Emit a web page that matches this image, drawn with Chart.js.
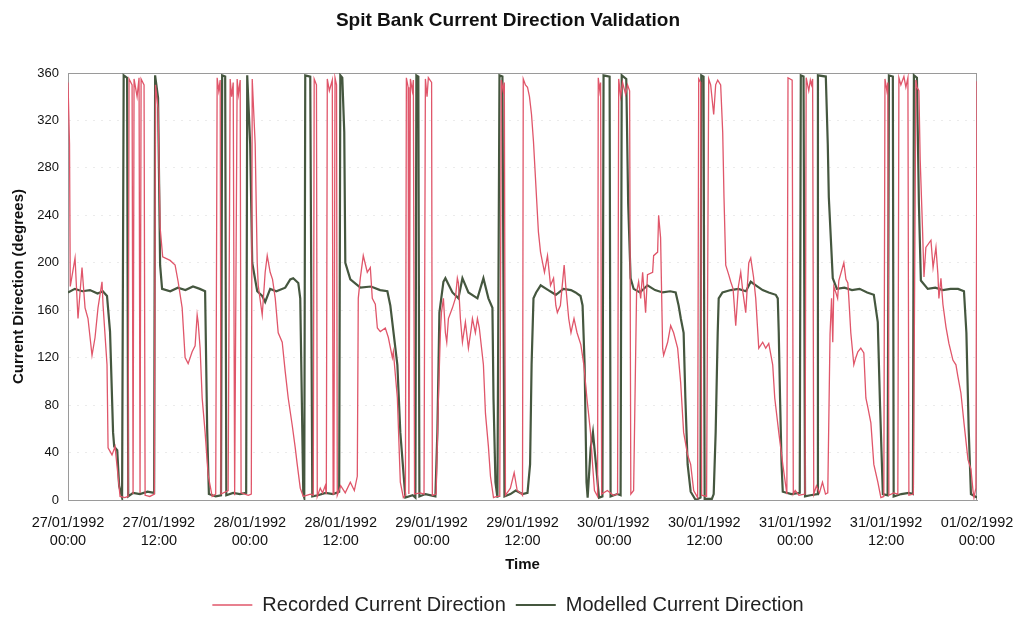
<!DOCTYPE html>
<html>
<head>
<meta charset="utf-8">
<title>Spit Bank Current Direction Validation</title>
<script src="https://cdn.jsdelivr.net/npm/chart.js@4.4.1/dist/chart.umd.min.js"></script>
<style>
  body { margin: 0; background: #fff; }
  #chart { display: block; }
</style>
</head>
<body>
<canvas id="chart" width="1016" height="621"></canvas>
<script>
// hours after 27/01/1992 00:00
let recTimes = [0.00,0.20,0.30,0.93,1.32,1.85,2.25,2.64,3.17,3.57,3.96,4.49,4.63,5.15,5.29,5.81,6.21,6.61,6.87,7.50,
  7.93,8.06,8.46,8.59,8.72,9.12,9.38,9.51,9.65,10.04,10.18,10.80,11.40,11.55,11.89,12.16,12.50,13.48,14.14,14.54,
  15.07,15.46,15.86,16.39,16.78,17.05,17.18,17.44,17.71,18.10,18.50,19.03,19.50,19.69,19.90,20.09,20.20,21.14,21.41,21.60,
  21.81,22.00,22.33,22.50,22.73,22.85,23.80,24.20,24.32,24.71,24.98,25.11,25.64,26.03,26.30,26.69,27.00,27.36,27.75,28.28,
  28.68,29.07,29.60,30.00,30.26,30.66,31.06,32.00,32.38,32.50,32.80,32.91,33.30,33.60,33.96,34.10,34.23,34.50,34.89,35.00,
  35.10,35.25,35.45,35.55,36.00,36.60,37.27,37.80,38.19,38.32,38.59,38.98,39.51,39.91,40.17,40.57,40.84,41.23,41.89,42.29,
  42.82,42.95,43.48,43.87,44.27,44.54,44.67,44.90,45.00,45.20,45.45,45.59,45.75,46.50,47.00,47.18,47.40,47.57,48.00,48.10,
  48.60,48.90,49.16,49.30,49.56,49.82,50.00,50.22,50.75,51.14,51.40,51.54,51.80,52.07,52.46,52.86,53.26,53.39,53.78,54.05,
  54.30,54.84,55.11,55.50,55.77,56.17,56.60,57.00,57.20,57.45,57.60,57.75,58.40,58.90,59.30,59.90,60.00,60.10,60.39,60.66,
  60.92,61.19,61.45,62.10,62.38,62.90,63.30,63.70,64.10,64.40,64.60,65.00,65.50,65.70,66.10,66.40,66.80,67.20,67.70,68.10,
  68.50,68.98,69.25,69.50,69.91,70.00,70.20,70.31,70.45,71.20,72.00,72.55,72.70,72.95,73.21,73.61,73.87,74.14,74.30,74.67,
  75.06,75.33,75.60,75.86,76.25,76.50,77.18,77.31,77.84,77.97,78.23,78.50,78.63,79.16,79.56,79.95,80.48,80.88,81.27,81.80,
  82.20,82.60,83.12,83.26,83.52,83.65,84.30,84.58,84.84,85.24,85.50,85.77,86.16,86.43,86.60,86.83,87.22,87.49,87.80,88.15,
  88.50,88.81,89.10,89.47,89.87,90.13,90.50,90.79,91.19,91.71,92.11,92.51,93.03,93.30,93.83,94.36,94.75,94.90,95.05,95.60,
  95.75,96.00,96.50,97.30,97.45,97.79,98.00,98.15,98.30,98.45,98.80,99.20,99.60,100.00,100.30,100.60,100.80,100.96,101.10,101.36,
  101.60,101.76,102.42,102.70,102.95,103.08,103.34,103.74,104.00,104.27,104.66,105.06,105.33,105.59,105.99,106.38,106.91,107.31,107.70,107.85,
  108.10,108.23,108.37,109.00,109.55,109.69,109.95,110.35,110.61,110.88,111.01,111.60,111.93,112.07,112.33,112.50,112.80,113.00,113.25,113.92,
  114.20,114.58,114.84,114.97,115.24,115.50,115.90,116.29,116.82,117.22,117.48,117.88,118.28,118.81,119.20,119.47,119.60,119.85,120.00]
let recValues = [352,300,180,204,153,196,162,153,122,137,162,184,164,114,44,38,45,20,3,2,
  3,355,350,5,355,340,356,6,355,350,4,3,5,350,330,230,205,202,198,184,
  162,120,115,125,130,156,150,128,86,57,21,3,5,356,345,354,5,8,355,340,
  352,4,355,342,354,6,4,5,355,300,200,181,156,192,206,192,186,170,141,133,
  108,86,63,44,30,10,3,5,4,355,350,3,10,6,12,5,355,345,354,5,
  6,356,350,4,12,6,15,8,20,170,187,206,192,196,170,165,145,142,145,137,
  120,125,86,15,2,4,356,348,5,355,345,354,5,6,5,355,340,356,352,4,
  5,86,141,158,170,141,133,153,162,170,187,183,153,133,150,128,146,153,141,153,
  145,114,73,45,20,2,3,3,354,345,352,4,10,23,8,5,4,355,350,348,
  340,325,302,226,209,192,206,181,187,164,158,164,198,181,153,141,153,141,131,114,
  86,57,30,8,3,356,345,352,5,8,4,5,355,340,352,342,350,345,5,8,
  175,184,170,192,158,190,192,206,209,240,221,128,122,133,147,141,128,99,57,38,
  30,8,2,355,352,4,3,355,350,325,350,354,350,310,255,198,190,184,178,147,
  180,192,175,158,200,204,188,170,128,133,128,132,114,86,57,30,12,5,356,354,
  5,8,4,5,356,345,354,350,355,5,12,6,15,5,6,140,170,133,180,175,
  170,185,200,186,183,170,141,114,120,125,128,124,86,78,65,30,15,2,3,355,
  345,352,4,6,5,356,350,357,348,356,4,5,354,348,345,287,230,188,213,219,
  196,213,190,170,187,165,146,132,118,114,104,90,65,34,26,8,2,10,353]

let modTimes = [0.0,0.9,1.9,2.9,3.9,4.6,5.15,5.55,5.95,6.1,6.5,6.75,7.14,7.35,7.8,7.95,8.6,9.5,10.5,11.37,
  11.5,11.89,12.16,12.42,13.5,14.5,15.5,16.5,17.4,18.1,18.37,18.6,19.5,20.2,20.35,20.75,20.9,21.8,22.7,23.52,
  23.66,24.05,24.32,24.98,25.64,26.03,26.69,27.5,28.68,29.34,29.73,30.4,30.66,31.06,31.19,31.32,31.98,32.25,33.0,34.0,
  35.0,35.8,35.95,36.21,36.47,36.61,37.27,38.6,40.0,41.2,42.16,42.55,43.48,43.87,44.54,45.5,45.86,45.99,46.25,46.39,
  47.2,48.5,48.76,49.03,49.56,49.82,50.75,51.54,52.07,52.86,54.05,54.84,55.5,56.03,56.17,56.43,56.69,56.96,57.35,57.62,
  58.4,59.1,60.0,60.66,61.0,61.2,61.45,61.8,62.4,63.4,64.4,65.4,66.4,67.0,67.66,67.93,68.2,68.45,68.6,69.0,
  69.3,69.7,70.1,70.55,70.7,71.5,71.63,72.5,72.95,73.1,73.7,73.95,74.27,74.67,75.5,76.5,77.5,78.5,79.5,80.22,
  80.61,80.9,81.27,81.5,81.8,82.2,82.86,83.5,83.6,83.9,84.05,85.0,85.24,85.5,85.77,85.9,86.4,87.5,88.5,89.5,
  90.13,90.8,91.7,92.5,93.43,93.7,93.83,94.0,94.2,94.36,95.5,96.6,96.74,97.1,97.3,98.0,98.9,99.0,100.04,100.3,
  100.44,100.96,101.5,102.5,103.5,104.5,105.5,106.38,106.9,107.2,107.57,108.2,108.37,108.89,109.0,110.0,111.0,111.54,111.67,112.07,
  112.33,112.59,113.5,114.5,115.5,116.5,117.5,118.28,118.6,118.9,119.2,120.0]
let modValues = [175,178,176,177,174,176,172,142,57,45,42,12,2,358,356,3,6,5,7,6,
  358,339,198,178,176,179,177,180,178,176,60,5,3,4,358,357,4,6,5,6,
  358,300,200,176,172,167,178,176,179,186,187,183,170,5,2,358,357,3,4,6,
  5,7,358,356,310,200,186,179,180,177,176,164,114,57,2,4,2,358,357,3,
  5,3,57,158,184,187,175,170,187,175,170,187,170,162,86,15,2,358,357,3,
  5,8,5,6,30,114,170,175,181,177,173,178,177,175,172,164,114,15,2,44,
  57,30,2,3,358,357,3,5,4,358,355,250,187,178,175,181,177,175,176,175,
  164,153,141,86,30,7,0,2,358,357,1,1,5,57,141,170,175,177,178,176,
  184,181,177,175,173,170,141,86,30,7,5,6,358,357,3,4,5,358,357,300,
  255,187,178,179,177,178,175,173,150,80,5,4,358,357,3,5,6,5,358,356,
  250,185,178,179,177,178,178,176,141,60,5,2]

let tickDates = ['27/01/1992','27/01/1992','28/01/1992','28/01/1992','29/01/1992','29/01/1992',
  '30/01/1992','30/01/1992','31/01/1992','31/01/1992','01/02/1992']
let tickTimes = ['00:00','12:00','00:00','12:00','00:00','12:00','00:00','12:00','00:00','12:00','00:00']

function toPoints(times, values) {
  let pts = []
  for (let i = 0; i < times.length; i++) {
    pts.push({ x: times[i], y: values[i] })
  }
  return pts
}

const frame = {
  id: 'frame',
  afterLayout(chart) {
    // nudge the legend row a little lower, like the original
    chart.legend.top += 4
    chart.legend.bottom += 4
  },
  beforeDatasetsDraw(chart) {
    let a = chart.chartArea
    let c = chart.ctx
    c.save()
    c.strokeStyle = '#9a9a9a'
    c.lineWidth = 1
    c.strokeRect(a.left + 0.5, a.top + 0.5, a.right - a.left - 1, a.bottom - a.top)
    c.restore()
  }
}

const font = "'Liberation Sans', Arial, sans-serif"

let chart = new Chart(document.getElementById('chart'), {
  type: 'line',
  data: {
    datasets: [{
      label: 'Recorded Current Direction',
      data: toPoints(recTimes, recValues),
      borderColor: '#e0566a',
      backgroundColor: '#e0566a',
      borderWidth: 1.3,
      pointRadius: 0,
      pointStyle: 'line',
      tension: 0
    }, {
      label: 'Modelled Current Direction',
      data: toPoints(modTimes, modValues),
      borderColor: '#45573f',
      backgroundColor: '#45573f',
      borderWidth: 2.2,
      pointRadius: 0,
      pointStyle: 'line',
      tension: 0
    }]
  },
  options: {
    responsive: false,
    animation: false,
    layout: { padding: { left: 0, right: 0, top: 0, bottom: 0 } },
    plugins: {
      title: {
        display: true,
        text: 'Spit Bank Current Direction Validation',
        color: '#111',
        font: { family: font, size: 19, weight: 'bold' },
        padding: { top: 9, bottom: 41.2 }
      },
      legend: {
        position: 'bottom',
        labels: {
          color: '#222',
          font: { family: font, size: 20 },
          usePointStyle: true,
          pointStyleWidth: 40,
          padding: 10
        }
      },
      tooltip: { enabled: false }
    },
    scales: {
      x: {
        type: 'linear',
        min: 0,
        max: 120,
        afterFit: function (scale) {
          scale.height = 81
          scale.paddingLeft = 0
          scale.paddingRight = 39
        },
        ticks: {
          stepSize: 12,
          autoSkip: false,
          maxRotation: 0,
          padding: 14,
          color: '#111',
          font: { family: font, size: 14.5, lineHeight: 1.25 },
          callback: function (value) {
            let i = Math.round(value / 12)
            return [tickDates[i], tickTimes[i]]
          }
        },
        grid: { display: false, drawTicks: false },
        border: { display: true, color: '#9a9a9a' },
        title: {
          display: true,
          text: 'Time',
          color: '#111',
          font: { family: font, size: 15, weight: 'bold' },
          padding: { top: 0, bottom: 7 }
        }
      },
      y: {
        min: 0,
        max: 360,
        afterFit: function (scale) { scale.width = 68 },
        ticks: {
          stepSize: 40,
          padding: 9,
          color: '#111',
          font: { family: font, size: 13 }
        },
        grid: {
          color: 'rgba(0,0,0,0.08)',
          drawTicks: false
        },
        border: { display: true, color: '#9a9a9a', dash: [2, 6] },
        title: {
          display: true,
          text: 'Current Direction (degrees)',
          color: '#111',
          font: { family: font, size: 15, weight: 'bold' },
          padding: { top: 10, bottom: 0 }
        }
      }
    }
  },
  plugins: [frame]
})
</script>
</body>
</html>
